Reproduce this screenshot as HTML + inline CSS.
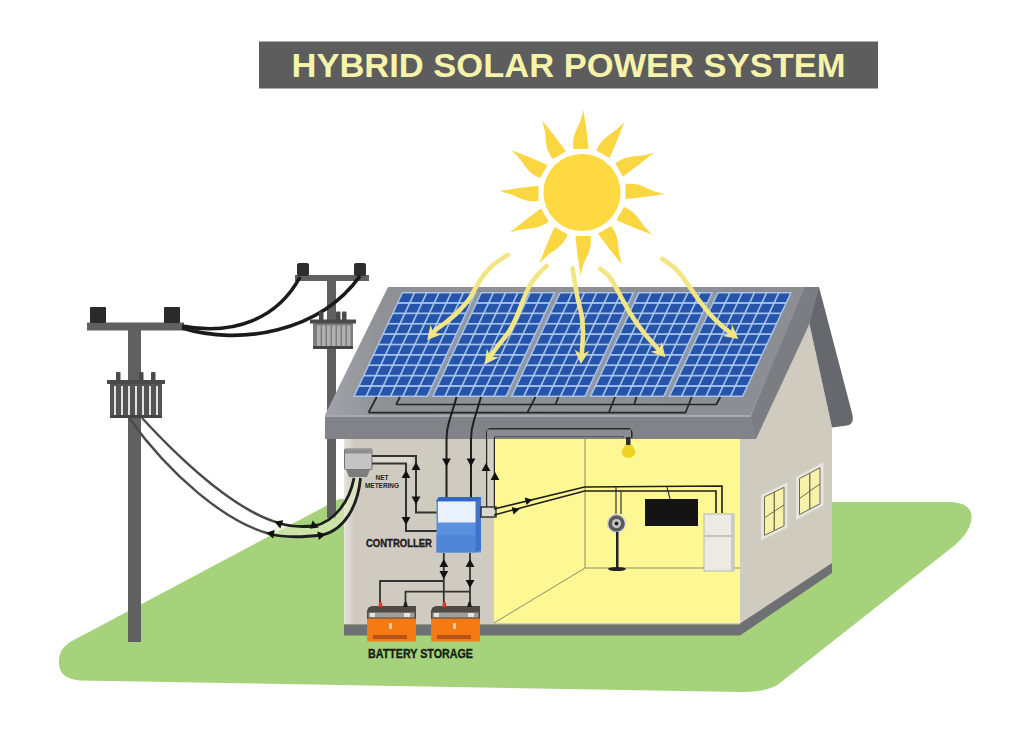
<!DOCTYPE html>
<html><head><meta charset="utf-8"><style>
html,body{margin:0;padding:0;background:#fff;width:1024px;height:736px;overflow:hidden}
svg{display:block}
</style></head><body>
<svg width="1024" height="736" viewBox="0 0 1024 736">
<rect width="1024" height="736" fill="#fff"/>
<path d="M72,641 L339,499 L832,502 L952,502 Q975,504 971,522 Q968,534 955,545 L780,683 Q770,692 740,692 L80,680.5 Q58,679 59,661 Q59,648 72,641 Z" fill="#a7d27c"/>
<rect x="259" y="41.5" width="619" height="47" fill="#5d5d5e"/>
<text x="291.5" y="77.2" font-family="Liberation Sans" font-weight="bold" font-size="34" fill="#f6f3ab" textLength="554" lengthAdjust="spacingAndGlyphs">HYBRID SOLAR POWER SYSTEM</text>
<g transform="translate(582,192.5)">
<path transform="rotate(0)" d="M-8.5,-43.5 C-10,-54 -6.5,-61 -3.5,-67 C-1,-72 0,-77 1.5,-82.5 C2.5,-74 4.5,-64 5,-58 C5.5,-52 6.5,-47 6.5,-43.5 Z" fill="#fad640"/>
<path transform="rotate(30)" d="M-8.5,-43.5 C-10,-54 -6.5,-61 -3.5,-67 C-1,-72 0,-77 1.5,-82.5 C2.5,-74 4.5,-64 5,-58 C5.5,-52 6.5,-47 6.5,-43.5 Z" fill="#fad640"/>
<path transform="rotate(60)" d="M-8.5,-43.5 C-10,-54 -6.5,-61 -3.5,-67 C-1,-72 0,-77 1.5,-82.5 C2.5,-74 4.5,-64 5,-58 C5.5,-52 6.5,-47 6.5,-43.5 Z" fill="#fad640"/>
<path transform="rotate(90)" d="M-8.5,-43.5 C-10,-54 -6.5,-61 -3.5,-67 C-1,-72 0,-77 1.5,-82.5 C2.5,-74 4.5,-64 5,-58 C5.5,-52 6.5,-47 6.5,-43.5 Z" fill="#fad640"/>
<path transform="rotate(120)" d="M-8.5,-43.5 C-10,-54 -6.5,-61 -3.5,-67 C-1,-72 0,-77 1.5,-82.5 C2.5,-74 4.5,-64 5,-58 C5.5,-52 6.5,-47 6.5,-43.5 Z" fill="#fad640"/>
<path transform="rotate(150)" d="M-8.5,-43.5 C-10,-54 -6.5,-61 -3.5,-67 C-1,-72 0,-77 1.5,-82.5 C2.5,-74 4.5,-64 5,-58 C5.5,-52 6.5,-47 6.5,-43.5 Z" fill="#fad640"/>
<path transform="rotate(180)" d="M-8.5,-43.5 C-10,-54 -6.5,-61 -3.5,-67 C-1,-72 0,-77 1.5,-82.5 C2.5,-74 4.5,-64 5,-58 C5.5,-52 6.5,-47 6.5,-43.5 Z" fill="#fad640"/>
<path transform="rotate(210)" d="M-8.5,-43.5 C-10,-54 -6.5,-61 -3.5,-67 C-1,-72 0,-77 1.5,-82.5 C2.5,-74 4.5,-64 5,-58 C5.5,-52 6.5,-47 6.5,-43.5 Z" fill="#fad640"/>
<path transform="rotate(240)" d="M-8.5,-43.5 C-10,-54 -6.5,-61 -3.5,-67 C-1,-72 0,-77 1.5,-82.5 C2.5,-74 4.5,-64 5,-58 C5.5,-52 6.5,-47 6.5,-43.5 Z" fill="#fad640"/>
<path transform="rotate(270)" d="M-8.5,-43.5 C-10,-54 -6.5,-61 -3.5,-67 C-1,-72 0,-77 1.5,-82.5 C2.5,-74 4.5,-64 5,-58 C5.5,-52 6.5,-47 6.5,-43.5 Z" fill="#fad640"/>
<path transform="rotate(300)" d="M-8.5,-43.5 C-10,-54 -6.5,-61 -3.5,-67 C-1,-72 0,-77 1.5,-82.5 C2.5,-74 4.5,-64 5,-58 C5.5,-52 6.5,-47 6.5,-43.5 Z" fill="#fad640"/>
<path transform="rotate(330)" d="M-8.5,-43.5 C-10,-54 -6.5,-61 -3.5,-67 C-1,-72 0,-77 1.5,-82.5 C2.5,-74 4.5,-64 5,-58 C5.5,-52 6.5,-47 6.5,-43.5 Z" fill="#fad640"/>
<circle r="38.6" fill="#fed942"/>
</g>
<rect x="128" y="326" width="13" height="316" fill="#606060"/>
<rect x="87" y="322.5" width="97" height="8" fill="#606060"/>
<rect x="90" y="307" width="16" height="16" rx="1" fill="#2a2a2a"/>
<rect x="164" y="307" width="16" height="16" rx="1" fill="#2a2a2a"/>
<rect x="327" y="279" width="9" height="239" fill="#606060"/>
<rect x="295" y="275" width="74" height="6" fill="#606060"/>
<rect x="297" y="263" width="12" height="13" rx="2" fill="#2e2e2e"/>
<rect x="354" y="263" width="12" height="13" rx="2" fill="#2e2e2e"/>
<path d="M182,326 C235,336 278,318 300,277" stroke="#1a1a1a" stroke-width="3.6" fill="none"/>
<path d="M182,328 C240,346 320,332 360,276" stroke="#1a1a1a" stroke-width="3.6" fill="none"/>
<rect x="110" y="381" width="52" height="37" fill="#545454"/><rect x="107" y="380" width="58" height="4" fill="#4a4a4a"/><rect x="114.0" y="386" width="2" height="29" fill="#e2e2e2"/><rect x="121.0" y="386" width="2" height="29" fill="#e2e2e2"/><rect x="128.0" y="386" width="2" height="29" fill="#e2e2e2"/><rect x="135.0" y="386" width="2" height="29" fill="#e2e2e2"/><rect x="142.0" y="386" width="2" height="29" fill="#e2e2e2"/><rect x="149.0" y="386" width="2" height="29" fill="#e2e2e2"/><rect x="156.0" y="386" width="2" height="29" fill="#e2e2e2"/><rect x="110" y="415" width="52" height="3" fill="#444"/><rect x="116" y="372" width="4.5" height="9" rx="1" fill="#4a4a4a"/><rect x="139.0" y="372" width="4.5" height="9" rx="1" fill="#4a4a4a"/><rect x="151" y="372" width="4.5" height="9" rx="1" fill="#4a4a4a"/>
<rect x="313" y="320.5" width="40" height="28.5" fill="#7c7c7c"/><rect x="310" y="319.5" width="46" height="4" fill="#4a4a4a"/><rect x="317.0" y="325.5" width="3.5" height="20.5" fill="#b0b0b0"/><rect x="322.0" y="325.5" width="3.5" height="20.5" fill="#b0b0b0"/><rect x="327.0" y="325.5" width="3.5" height="20.5" fill="#b0b0b0"/><rect x="332.0" y="325.5" width="3.5" height="20.5" fill="#b0b0b0"/><rect x="337.0" y="325.5" width="3.5" height="20.5" fill="#b0b0b0"/><rect x="342.0" y="325.5" width="3.5" height="20.5" fill="#b0b0b0"/><rect x="347.0" y="325.5" width="3.5" height="20.5" fill="#b0b0b0"/><rect x="313" y="346.0" width="40" height="3" fill="#444"/><rect x="319" y="311.5" width="4.5" height="9" rx="1" fill="#4a4a4a"/><rect x="336.0" y="311.5" width="4.5" height="9" rx="1" fill="#4a4a4a"/><rect x="342" y="311.5" width="4.5" height="9" rx="1" fill="#4a4a4a"/>
<path d="M740,439 L751,439 L809.5,324 L832,428 L832,563.5 L740,624 Z" fill="#cfcbbf"/>
<path d="M812,287 L819,287 L852,413 Q855,424 847,425.5 L832,427.5 L809.5,324 Z" fill="#67686d"/>
<path d="M740,623.5 L832,563 L832,573 L740,635.5 Z" fill="#6f7074"/>
<defs><linearGradient id="wl" x1="0" x2="1" y1="0" y2="0"><stop offset="0" stop-color="#e6e4de"/><stop offset="1" stop-color="#d0cbc1"/></linearGradient></defs>
<rect x="344" y="438" width="396" height="186" fill="#d0cbc1"/>
<rect x="344" y="438" width="10" height="186" fill="url(#wl)"/>
<rect x="344" y="624.5" width="396" height="11" fill="#6f7074"/>
<rect x="494" y="439" width="246" height="184" fill="#fdf894"/>
<path d="M585,439 L585,568 L740,568 M585,568 L494,623" stroke="#8f8b68" stroke-width="1" fill="none"/>
<polygon points="761.0,495.0 787.5,482.2 787.5,527.7 761.0,540.5" fill="#e6e4de"/><polygon points="764.5,496.8 784.0,487.4 784.0,525.9 764.5,535.3" fill="#f7f2aa" stroke="#6d6a4c" stroke-width="1"/><line x1="774.25" y1="492.1" x2="774.25" y2="530.6" stroke="#6d6a4c" stroke-width="1.3"/><line x1="764.5" y1="517.75" x2="784.0" y2="504.95" stroke="#6d6a4c" stroke-width="1"/>
<polygon points="796.0,477.0 823.5,462.3 823.5,505.3 796.0,520.0" fill="#e6e4de"/><polygon points="799.5,478.6 820.0,467.7 820.0,503.7 799.5,514.6" fill="#f7f2aa" stroke="#6d6a4c" stroke-width="1"/><line x1="809.75" y1="473.15" x2="809.75" y2="509.15" stroke="#6d6a4c" stroke-width="1.3"/><line x1="799.5" y1="498.5" x2="820.0" y2="483.8" stroke="#6d6a4c" stroke-width="1"/>
<defs><linearGradient id="rf" x1="0" x2="1" y1="0" y2="0"><stop offset="0" stop-color="#a2a4a9"/><stop offset="0.12" stop-color="#8f9196"/><stop offset="1" stop-color="#8c8e93"/></linearGradient></defs>
<path d="M388,287 L806,287 L751,415 L325,415 Z" fill="url(#rf)"/>
<path d="M805,287 L819,287 L809.5,324 L756,439 L751,439 L751,415 Z" fill="#7b7d82"/>
<path d="M325,415 L751,415 L756,439 L325,439 Z" fill="#818389"/>
<rect x="325" y="415" width="426" height="2" fill="#a9abb1"/>
<defs><pattern id="pc0" patternUnits="userSpaceOnUse" x="0.60" y="0.60" width="12.227" height="10.380"><rect x="0.85" y="0.8" width="10.527" height="8.780" fill="#2754ab"/></pattern><pattern id="pc1" patternUnits="userSpaceOnUse" x="79.46" y="0.60" width="12.227" height="10.380"><rect x="0.85" y="0.8" width="10.527" height="8.780" fill="#2754ab"/></pattern><pattern id="pc2" patternUnits="userSpaceOnUse" x="158.32" y="0.60" width="12.227" height="10.380"><rect x="0.85" y="0.8" width="10.527" height="8.780" fill="#2754ab"/></pattern><pattern id="pc3" patternUnits="userSpaceOnUse" x="237.18" y="0.60" width="12.227" height="10.380"><rect x="0.85" y="0.8" width="10.527" height="8.780" fill="#2754ab"/></pattern><pattern id="pc4" patternUnits="userSpaceOnUse" x="316.04" y="0.60" width="12.227" height="10.380"><rect x="0.85" y="0.8" width="10.527" height="8.780" fill="#2754ab"/></pattern></defs>
<g transform="matrix(1,0,-0.4667,1,402,292)"><rect x="0" y="0" width="390.0" height="105.0" fill="#8f98a4"/><rect x="0.00" y="0" width="74.56" height="105.0" fill="#adc9ee"/><rect x="0.60" y="0.60" width="73.36" height="103.80" fill="url(#pc0)"/><rect x="78.86" y="0" width="74.56" height="105.0" fill="#adc9ee"/><rect x="79.46" y="0.60" width="73.36" height="103.80" fill="url(#pc1)"/><rect x="157.72" y="0" width="74.56" height="105.0" fill="#adc9ee"/><rect x="158.32" y="0.60" width="73.36" height="103.80" fill="url(#pc2)"/><rect x="236.58" y="0" width="74.56" height="105.0" fill="#adc9ee"/><rect x="237.18" y="0.60" width="73.36" height="103.80" fill="url(#pc3)"/><rect x="315.44" y="0" width="74.56" height="105.0" fill="#adc9ee"/><rect x="316.04" y="0.60" width="73.36" height="103.80" fill="url(#pc4)"/></g>
<path d="M368.5,412.7 L376.7,397 M368.5,412.7 L685.5,412.7 L691.7,397 M396,404.5 L400,397 M396,404.5 L716.3,404.5 L720.4,397 M535.5,397 L527.3,412.7 M558.5,397 L555.4,404.5 M615,397 L608.7,412.7 M636.4,397 L634.3,404.5" stroke="#262626" stroke-width="1.7" fill="none" stroke-linejoin="round"/>
<path d="M456.6,397 L449,422 Q446.5,430 446.5,440 L446.5,497" stroke="#1e1e1e" stroke-width="2" fill="none"/>
<path d="M481,397 L473.5,422 Q471,430 471,440 L471,497" stroke="#1e1e1e" stroke-width="2" fill="none"/>
<polygon points="446.5,466.5 442.1,458.5 450.9,458.5" fill="#111"/>
<polygon points="471.0,466.5 466.6,458.5 475.4,458.5" fill="#111"/>
<path d="M490.5,512 L490.5,432.5 L628,432.5 L628,438" stroke="#2a2a2a" stroke-width="9" fill="none" stroke-linejoin="round"/>
<path d="M490.5,512 L490.5,439" stroke="#d5d1c7" stroke-width="6.5" fill="none"/>
<path d="M490.5,439 L490.5,433 L627.5,433 L627.5,438" stroke="#8b8c91" stroke-width="7" fill="none"/>
<rect x="626" y="437" width="4.5" height="8" fill="#2e2e2e"/>
<path d="M625,445 L632,445 L635.5,451 A7,7 0 1 1 621.5,451 Z" fill="#f0d424"/>
<polygon points="486.0,463.0 490.4,471.0 481.6,471.0" fill="#111"/>
<polygon points="495.0,472.0 499.4,480.0 490.6,480.0" fill="#111"/>
<rect x="372" y="456" width="40" height="8" fill="#dcd8cf"/>
<rect x="344.5" y="449" width="27.5" height="20.5" rx="1" fill="#c4c4c4" stroke="#747474" stroke-width="1"/>
<rect x="345" y="449.5" width="26.5" height="4" fill="#8e8e8e"/>
<path d="M346,469.5 L370,469.5 L367,477 L349,477 Z" fill="#7c7c7c"/>
<path d="M372,456 L416,456 L416,512.4 L437,512.4" stroke="#333" stroke-width="2" fill="none"/>
<path d="M372,463.5 L406,463.5 L406,531 L437,531" stroke="#333" stroke-width="2" fill="none"/>
<polygon points="416.0,462.0 420.4,470.0 411.6,470.0" fill="#111"/>
<polygon points="416.0,504.5 411.6,496.5 420.4,496.5" fill="#111"/>
<polygon points="406.0,470.0 410.4,478.0 401.6,478.0" fill="#111"/>
<polygon points="406.0,525.0 401.6,517.0 410.4,517.0" fill="#111"/>
<text x="375.5" y="480" font-family="Liberation Sans" font-weight="bold" font-size="7" fill="#222" textLength="13" lengthAdjust="spacingAndGlyphs">NET</text>
<text x="365" y="487.5" font-family="Liberation Sans" font-weight="bold" font-size="7" fill="#222" textLength="34" lengthAdjust="spacingAndGlyphs">METERING</text>
<path d="M439,497 L481,497 L481,552.5 L436.5,552.5 L436.5,500 Z" fill="#5a90de"/>
<rect x="436.5" y="535" width="39" height="17.5" fill="#4f86d6"/>
<path d="M439,497 L481,497 L481,501.5 L436.5,501.5 L436.5,500 Z" fill="#3566c2"/>
<path d="M475.5,501.5 L481,497 L481,550 L475.5,552.5 Z" fill="#3f73ca"/>
<rect x="438" y="501.5" width="37.5" height="21" fill="#e9f2fc"/>
<text x="366" y="547" font-family="Liberation Sans" font-weight="bold" font-size="10" fill="#1c1c1c" stroke="#1c1c1c" stroke-width="0.35" textLength="66" lengthAdjust="spacingAndGlyphs">CONTROLLER</text>
<rect x="481" y="507" width="15" height="10" fill="#dcd8cf" stroke="#2a2a2a" stroke-width="1.4"/>
<path d="M494,509 L584.6,487 L722,486 L722,513" stroke="#1e1e1e" stroke-width="1.6" fill="none"/>
<path d="M494,515 L584.6,491 L716,491 L716,513" stroke="#1e1e1e" stroke-width="1.6" fill="none"/>
<polygon points="532.4,499.7 526.5,505.1 524.7,497.6" fill="#111"/>
<polygon points="519.4,509.2 513.5,514.6 511.7,507.1" fill="#111"/>
<path d="M616,487 L616,514 M621,491 L621,514" stroke="#333" stroke-width="1.2" fill="none"/>
<circle cx="616.5" cy="523.5" r="9" fill="#5a5a5a" stroke="#d8d8d8" stroke-width="1.5"/>
<circle cx="616.5" cy="523.5" r="4.5" fill="#c8c8c8"/>
<circle cx="616.5" cy="523.5" r="2" fill="#222"/>
<rect x="616" y="532" width="2.5" height="37" fill="#222"/>
<ellipse cx="617" cy="569" rx="9" ry="2" fill="#222"/>
<path d="M667,487 L670,499" stroke="#333" stroke-width="1.2"/>
<rect x="645" y="499" width="53" height="27" fill="#141414"/>
<rect x="704" y="514" width="30" height="57" fill="#eceae4" stroke="#b5b5b5" stroke-width="1"/>
<rect x="731" y="514" width="3" height="57" fill="#c9c9c9"/>
<line x1="705" y1="536" x2="731" y2="536" stroke="#999" stroke-width="1"/>
<path d="M443.8,553 L443.8,606 M470,553 L470,606 M380,604 L380,581 L443.8,581 M405.5,604 L405.5,591.6 L470,591.6" stroke="#333" stroke-width="1.8" fill="none"/>
<polygon points="443.8,559.0 448.2,567.0 439.4,567.0" fill="#111"/>
<polygon points="443.8,579.0 439.4,571.0 448.2,571.0" fill="#111"/>
<polygon points="470.0,559.0 474.4,567.0 465.6,567.0" fill="#111"/>
<polygon points="470.0,588.0 465.6,580.0 474.4,580.0" fill="#111"/>
<path d="M373,606 L416,606 L416,619 L367,619 L367,612 Q367,606 373,606 Z" fill="#4f4a45"/><rect x="368.5" y="612.5" width="46" height="5" fill="#a39e97"/><rect x="370" y="613" width="5" height="4" fill="#e8e6e2"/><rect x="404" y="613" width="6" height="4" fill="#e8e6e2"/><rect x="367" y="618.5" width="49" height="23" rx="1.5" fill="#f47b14"/><rect x="373" y="635" width="34" height="4" fill="#b9521a"/><rect x="389" y="623" width="3" height="6" fill="#f6c89a"/><path d="M378,607 L383,607 L381.5,602 L379.5,602 Z" fill="#d83a2a"/><path d="M403,607 L408,607 L406.5,602 L404.5,602 Z" fill="#1e1e1e"/>
<path d="M437,606 L480,606 L480,619 L431,619 L431,612 Q431,606 437,606 Z" fill="#4f4a45"/><rect x="432.5" y="612.5" width="46" height="5" fill="#a39e97"/><rect x="434" y="613" width="5" height="4" fill="#e8e6e2"/><rect x="468" y="613" width="6" height="4" fill="#e8e6e2"/><rect x="431" y="618.5" width="49" height="23" rx="1.5" fill="#f47b14"/><rect x="437" y="635" width="34" height="4" fill="#b9521a"/><rect x="453" y="623" width="3" height="6" fill="#f6c89a"/><path d="M442,607 L447,607 L445.5,602 L443.5,602 Z" fill="#d83a2a"/><path d="M467,607 L472,607 L470.5,602 L468.5,602 Z" fill="#1e1e1e"/>
<text x="368" y="657.5" font-family="Liberation Sans" font-weight="bold" font-size="12" fill="#142214" stroke="#142214" stroke-width="0.35" textLength="105" lengthAdjust="spacingAndGlyphs">BATTERY STORAGE</text>
<path d="M142,418 C190,470 240,512 279,523" stroke="#4a4a4a" stroke-width="2.4" fill="none"/>
<path d="M129,418 C170,475 225,522 270,534" stroke="#4a4a4a" stroke-width="2.4" fill="none"/>
<path d="M279,523 C290,527 302,527 314,526 C335,522 350,500 354,478 L360.5,478 C358,505 345,530 322,535 C305,537 285,538 270,534 Z" fill="#e4efc4" fill-opacity="0.6"/>
<path d="M279,523 C290,527 302,527 314,526 C335,522 350,500 354,478" stroke="#1e1e1e" stroke-width="2.8" fill="none"/>
<path d="M270,534 C285,538 305,537 322,535 C345,530 358,505 360.5,478" stroke="#1e1e1e" stroke-width="2.8" fill="none"/>
<polygon points="274.2,521.6 283.3,520.2 280.3,528.5" fill="#111"/>
<polygon points="266.1,532.8 274.7,529.9 273.2,538.5" fill="#111"/>
<polygon points="318.8,527.4 309.7,528.8 312.7,520.5" fill="#111"/>
<polygon points="325.9,534.3 318.8,540.0 317.3,531.4" fill="#111"/>
<path d="M507.7,255.0 C505.6,256.4 498.7,260.4 494.9,263.5 C491.1,266.6 488.0,269.7 484.9,273.5 C481.8,277.3 479.0,282.1 476.4,286.4 C473.8,290.7 472.3,294.9 469.2,299.2 C466.1,303.5 461.6,308.2 457.8,312.0 C454.0,315.8 450.0,319.1 446.4,322.0 C442.8,324.9 438.6,327.3 436.4,329.2 C434.2,331.1 433.6,332.5 433.0,333.1" stroke="#f1e584" stroke-width="4.6" fill="none" stroke-linecap="round"/>
<polygon points="427.1,339.9 430.6,324.4 433.3,332.7 441.9,334.3" fill="#f1e584"/>
<path d="M546.6,266.0 C545.0,267.6 540.1,271.9 537.2,275.3 C534.3,278.7 531.8,282.1 529.4,286.3 C527.0,290.5 525.2,295.4 523.1,300.3 C521.0,305.2 519.2,310.8 516.9,316.0 C514.5,321.2 512.1,326.7 509.0,331.6 C505.9,336.5 501.3,341.4 498.1,345.6 C494.9,349.8 491.3,355.1 490.0,357.1" stroke="#f1e584" stroke-width="4.6" fill="none" stroke-linecap="round"/>
<polygon points="484.8,364.4 486.8,348.6 490.3,356.6 499.0,357.3" fill="#f1e584"/>
<path d="M572.6,268.2 C573.0,270.6 573.9,277.3 574.8,282.4 C575.7,287.5 576.7,293.4 577.8,298.9 C578.9,304.4 580.7,309.8 581.6,315.3 C582.5,320.8 582.9,326.6 583.0,331.8 C583.1,337.0 582.5,342.8 582.3,346.7 C582.1,350.6 581.7,353.6 581.6,355.0" stroke="#f1e584" stroke-width="4.6" fill="none" stroke-linecap="round"/>
<polygon points="580.8,364.0 574.5,349.4 581.6,354.5 589.5,350.7" fill="#f1e584"/>
<path d="M600.2,268.8 C601.7,270.1 606.2,272.8 609.0,276.3 C611.8,279.8 614.5,285.1 617.2,289.9 C619.9,294.6 622.6,300.1 625.3,304.8 C628.0,309.6 630.3,313.6 633.5,318.4 C636.7,323.2 641.0,329.1 644.4,333.4 C647.8,337.7 651.4,341.5 653.9,344.3 C656.4,347.1 658.5,349.5 659.4,350.5" stroke="#f1e584" stroke-width="4.6" fill="none" stroke-linecap="round"/>
<polygon points="665.4,357.2 650.5,351.7 659.1,350.1 661.7,341.8" fill="#f1e584"/>
<path d="M662.2,258.8 C664.7,260.7 672.7,265.8 677.2,270.4 C681.7,275.0 685.8,281.7 689.4,286.7 C693.0,291.7 695.6,295.8 699.0,300.3 C702.4,304.8 706.0,309.6 709.8,313.9 C713.6,318.2 718.4,322.8 722.0,326.0 C725.6,329.2 729.7,332.2 731.3,333.4" stroke="#f1e584" stroke-width="4.6" fill="none" stroke-linecap="round"/>
<polygon points="738.3,339.0 722.7,336.1 730.9,333.1 732.0,324.4" fill="#f1e584"/>
</svg>
</body></html>
